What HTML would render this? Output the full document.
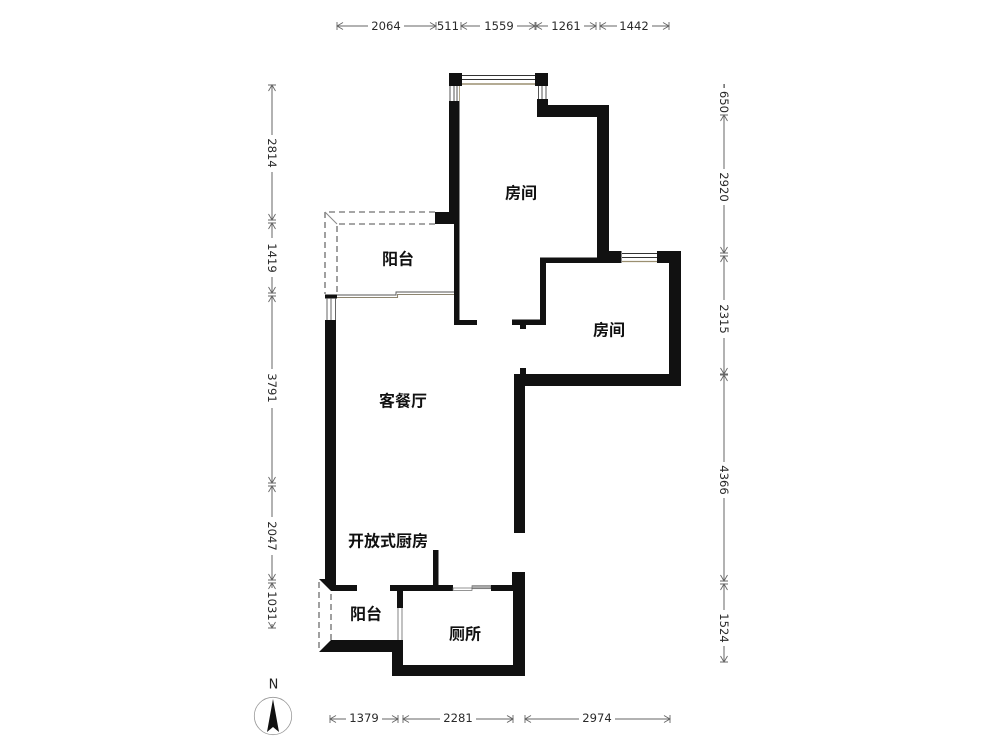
<!DOCTYPE html>
<html lang="zh">
<head>
<meta charset="utf-8">
<title>户型图</title>
<style>
html,body{margin:0;padding:0;background:#fff}
svg{display:block}
.w{fill:#111}
.d{stroke:#666;stroke-width:1;fill:none}
.f{stroke:#888;stroke-width:1.6;fill:none;stroke-dasharray:6 4}
.n{font-family:"DejaVu Sans","Liberation Sans",sans-serif;font-size:11.6px;fill:#2a2a2a;text-anchor:middle;dominant-baseline:central}
.r{font-family:"Liberation Sans","Noto Sans CJK SC",sans-serif;font-size:16px;font-weight:700;fill:#111;text-anchor:middle;dominant-baseline:central}
.s{marker-start:url(#a)}
.e{marker-end:url(#b)}
</style>
</head>
<body>
<svg width="1000" height="750" viewBox="0 0 1000 750" xmlns="http://www.w3.org/2000/svg">
<defs>
<marker id="a" markerUnits="userSpaceOnUse" markerWidth="10" markerHeight="10" refX="0" refY="0" orient="auto" overflow="visible"><path d="M0,-4V4M6,-3.5L0,0L6,3.5" fill="none" stroke="#666" stroke-width="0.9"/></marker>
<marker id="b" markerUnits="userSpaceOnUse" markerWidth="10" markerHeight="10" refX="0" refY="0" orient="auto" overflow="visible"><path d="M0,-4V4M-6,-3.5L0,0L-6,3.5" fill="none" stroke="#666" stroke-width="0.9"/></marker>
</defs>
<rect width="1000" height="750" fill="#fff"/>

<!-- top dimensions -->
<line class="d s" x1="337" y1="26" x2="368" y2="26"/><text class="n" x="386" y="26">2064</text><line class="d e" x1="404" y1="26" x2="436" y2="26"/>
<text class="n" x="448" y="26">511</text>
<line class="d s" x1="461" y1="26" x2="480" y2="26"/><text class="n" x="499" y="26">1559</text><line class="d e" x1="517" y1="26" x2="535" y2="26"/>
<line class="d s" x1="536" y1="26" x2="548" y2="26"/><text class="n" x="566" y="26">1261</text><line class="d e" x1="584" y1="26" x2="596" y2="26"/>
<line class="d s" x1="600" y1="26" x2="617" y2="26"/><text class="n" x="634" y="26">1442</text><line class="d e" x1="652" y1="26" x2="669" y2="26"/>

<!-- left dimensions -->
<line class="d s" x1="272" y1="85" x2="272" y2="135"/><text class="n" transform="rotate(90 272 153)" x="272" y="153">2814</text><line class="d e" x1="272" y1="172" x2="272" y2="220"/>
<line class="d s" x1="272" y1="223" x2="272" y2="238"/><text class="n" transform="rotate(90 272 258)" x="272" y="258">1419</text><line class="d e" x1="272" y1="277" x2="272" y2="293"/>
<line class="d s" x1="272" y1="296" x2="272" y2="369"/><text class="n" transform="rotate(90 272 388)" x="272" y="388">3791</text><line class="d e" x1="272" y1="408" x2="272" y2="483"/>
<line class="d s" x1="272" y1="486" x2="272" y2="517"/><text class="n" transform="rotate(90 272 536)" x="272" y="536">2047</text><line class="d e" x1="272" y1="555" x2="272" y2="580"/>
<line class="d s" x1="272" y1="583" x2="272" y2="588"/><text class="n" transform="rotate(90 272 606)" x="272" y="606">1031</text><line class="d e" x1="272" y1="624" x2="272" y2="628"/>

<!-- right dimensions -->
<rect x="723.5" y="84" width="1.2" height="4" fill="#444"/>
<text class="n" transform="rotate(90 724 102)" x="724" y="102">650</text>
<line class="d s" x1="724" y1="115" x2="724" y2="169"/><text class="n" transform="rotate(90 724 187)" x="724" y="187">2920</text><line class="d e" x1="724" y1="205" x2="724" y2="253"/>
<line class="d s" x1="724" y1="256" x2="724" y2="300"/><text class="n" transform="rotate(90 724 319)" x="724" y="319">2315</text><line class="d e" x1="724" y1="338" x2="724" y2="374"/>
<line class="d s" x1="724" y1="375" x2="724" y2="462"/><text class="n" transform="rotate(90 724 480)" x="724" y="480">4366</text><line class="d e" x1="724" y1="498" x2="724" y2="581"/>
<line class="d s" x1="724" y1="584" x2="724" y2="610"/><text class="n" transform="rotate(90 724 628)" x="724" y="628">1524</text><line class="d e" x1="724" y1="646" x2="724" y2="662"/>

<!-- bottom dimensions -->
<line class="d s" x1="330" y1="719" x2="346" y2="719"/><text class="n" x="364" y="718">1379</text><line class="d e" x1="382" y1="719" x2="398" y2="719"/>
<line class="d s" x1="403" y1="719" x2="440" y2="719"/><text class="n" x="458" y="718">2281</text><line class="d e" x1="476" y1="719" x2="513" y2="719"/>
<line class="d s" x1="525" y1="719" x2="579" y2="719"/><text class="n" x="597" y="718">2974</text><line class="d e" x1="615" y1="719" x2="670" y2="719"/>

<!-- compass -->
<text x="273.5" y="685" font-family="'DejaVu Sans',sans-serif" font-size="13" fill="#222" text-anchor="middle" dominant-baseline="central">N</text>
<circle cx="273" cy="716" r="18.7" fill="#fff" stroke="#999" stroke-width="0.8"/>
<path d="M273,699L279,732L273,727L267,732Z" fill="#111"/>

<!-- top room walls -->
<rect class="w" x="449" y="73" width="13" height="13"/>
<rect class="w" x="535" y="73" width="13" height="13"/>
<rect x="462" y="75" width="73" height="10" fill="#fff"/>
<path d="M462,75.5H535M462,79.5H535" stroke="#333" stroke-width="0.9"/>
<path d="M462,84H535" stroke="#9b8f70" stroke-width="1.4"/>
<path d="M450,86V101M454,86V101M457,86V101" stroke="#444" stroke-width="0.9"/>
<path d="M459.5,86V101" stroke="#a89c7e" stroke-width="0.9"/>
<path d="M538.5,86V99M542,86V99M546,86V99" stroke="#444" stroke-width="0.9"/>
<path class="w" d="M449,101H459.5V212H449Z"/>
<path class="w" d="M435,212H459.5V320H477V325H454V224H435Z"/>
<path class="w" d="M537,99H548V105H609V251H621.5V263H546V325H512V319.5H540V257.5H597V117H537Z"/>
<rect class="w" x="520" y="325" width="6" height="4"/>

<!-- east room window and walls -->
<path d="M622,253.5H657M622,257.5H657" stroke="#333" stroke-width="0.9"/>
<path d="M622,261.5H657" stroke="#9b8f70" stroke-width="1.3"/>
<path class="w" d="M657,251H681V386H525V533H514V374H520V368H526V374H669V263H657Z"/>

<!-- north balcony -->
<path class="f" d="M435,212H325V294"/>
<path class="f" d="M435,224H337V294"/>
<path d="M325,212L337,224" stroke="#888" stroke-width="1" fill="none"/>
<rect class="w" x="325" y="294.5" width="12" height="4"/>
<path d="M337,295H396V292H454" fill="none" stroke="#555" stroke-width="0.9"/>
<path d="M337,297.5H397.5V294.5H454" fill="none" stroke="#8d8570" stroke-width="1.1"/>
<path d="M327,298V320M331,298V320M335.5,298V320" stroke="#555" stroke-width="0.9"/>

<!-- west wall -->
<path class="w" d="M325,320H336V585H357V591H331L319,579H325Z"/>

<!-- south rooms -->
<path class="w" d="M390,585H453V591H403V608H397V591H390Z"/>
<rect class="w" x="433" y="550" width="5.5" height="36"/>
<rect x="453" y="588" width="19" height="2.4" fill="#fff" stroke="#666" stroke-width="0.7"/>
<rect x="472" y="585.7" width="19" height="3" fill="#aaa" stroke="#666" stroke-width="0.7"/>
<path class="w" d="M491,585H512V572H525V676H392V652H319L331,640H403V665H513V591H491Z"/>
<path d="M398,608V640M402,608V640" stroke="#777" stroke-width="0.9"/>
<path d="M319,582V652" class="f" stroke-width="1.2"/>
<path d="M331,594V640" class="f" stroke-width="1.2"/>

<!-- room labels -->
<text class="r" x="521" y="194">房间</text>
<text class="r" x="398" y="260">阳台</text>
<text class="r" x="609" y="331">房间</text>
<text class="r" x="403" y="402">客餐厅</text>
<text class="r" x="388" y="542">开放式厨房</text>
<text class="r" x="366" y="615">阳台</text>
<text class="r" x="465" y="635">厕所</text>
</svg>
</body>
</html>
